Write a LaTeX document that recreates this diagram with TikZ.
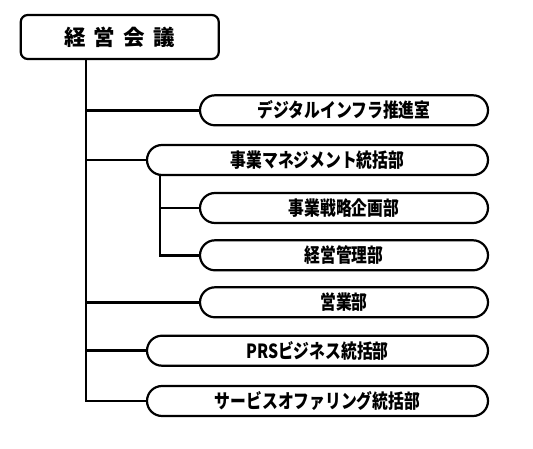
\documentclass[tikz,border=0pt]{standalone}
\usepackage{fontspec}
\setmainfont{Noto Sans CJK JP}
\newfontfamily\narrowjp{Noto Sans CJK JP}[FakeStretch=0.81]
\begin{document}
\begin{tikzpicture}[x=1pt,y=-1pt,
  conn/.style={line width=2.6pt,line cap=rect},
  unit/.style={draw=black,line width=2.2pt,fill=white,rounded corners=15pt,
    minimum height=30pt,inner sep=0pt,font=\narrowjp\fontsize{19.5}{22}\selectfont\bfseries},
  narrow/.style={unit,minimum width=288pt},
  wide/.style={unit,minimum width=341pt},
  topbox/.style={draw=black,line width=2.2pt,fill=white,rounded corners=7pt,
    minimum width=198pt,minimum height=44pt,inner sep=0pt,
    font=\fontsize{21.5}{24}\selectfont\bfseries}]
\useasboundingbox (0,0) rectangle (533,449);
\node[topbox] (top) at (119.75,37) {経\hspace{8.5pt}営\hspace{8.5pt}会\hspace{8.5pt}議};
\node[narrow] (d1) at (344,110.3) {デジタルインフラ推進室};
\node[wide] (m) at (317.5,160) {事業マネジメント統括部};
\node[narrow] (s1) at (344,208) {事業戦略企画部};
\node[narrow] (s2) at (344,255.3) {経営管理部};
\node[narrow] (e) at (344,302.3) {営業部};
\node[wide] (prs) at (317.5,350.7) {PRSビジネス統括部};
\node[wide] (sv) at (317.5,401) {サービスオファリング統括部};
\coordinate (trunk) at (86,59);
\coordinate (sub) at (160,175);
\draw[conn] (trunk |- top.south) |- (sv.west);
\draw[conn] (trunk |- d1.west) -- (d1.west);
\draw[conn] (trunk |- m.west) -- (m.west);
\draw[conn] (trunk |- e.west) -- (e.west);
\draw[conn] (trunk |- prs.west) -- (prs.west);
\draw[conn] (sub |- m.south) |- (s2.west);
\draw[conn] (sub |- s1.west) -- (s1.west);
\end{tikzpicture}
\end{document}
